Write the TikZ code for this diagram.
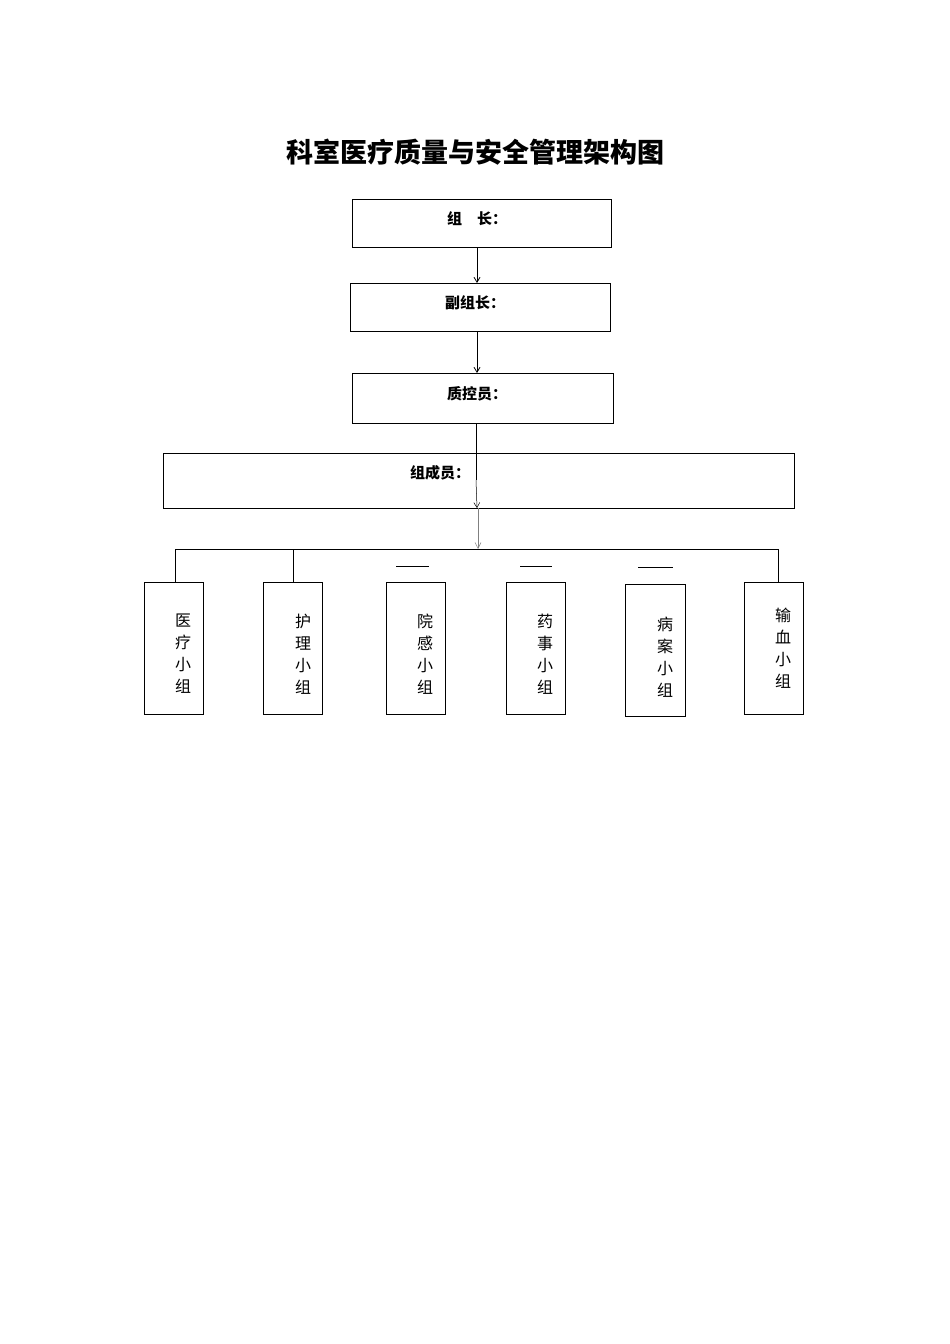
\documentclass[tikz,border=0pt]{standalone}
\usepackage{fontspec}
\newfontfamily\cjk{Noto Sans CJK SC}
\usetikzlibrary{arrows.meta}
\begin{document}
\begin{tikzpicture}[x=1pt,y=-1pt,
  box/.style={draw,line width=1pt},
  lbl/.style={font=\cjk\fontsize{15}{18}\selectfont\bfseries},
  vt/.style={font=\cjk\fontsize{16}{22}\selectfont,align=center,inner sep=0pt},
  arr/.style={-{Straight Barb[length=5pt,width=6pt]},line width=0.8pt}]
\useasboundingbox (0,0) rectangle (950,1344);
\node[font=\cjk\fontsize{27}{32}\selectfont\bfseries] (title) at (475,152) {科室医疗质量与安全管理架构图};
\draw[box] (352,199) rectangle (611,247);
\node[lbl] (zz) at (477,219) {组\quad 长：};
\coordinate (zzb) at (477,247);
\draw[box] (350,283) rectangle (610,331);
\node[lbl] (fz) at (475,303) {副组长：};
\coordinate (fzt) at (477,283); \coordinate (fzb) at (477,331);
\draw[box] (352,373) rectangle (613,423);
\node[lbl] (zk) at (477,394) {质控员：};
\coordinate (zkt) at (477,373); \coordinate (zkb) at (476,423);
\draw[box] (163,453) rectangle (794,508);
\node[lbl] (cy) at (440,473) {组成员：};
\coordinate (cyl) at (476,480); \coordinate (cya) at (477,508);
\draw[arr] (zzb) -- (fzt);
\draw[arr] (fzb) -- (zkt);
\draw[line width=0.8pt] (zkb) -- (cyl);
\draw[-{Straight Barb[length=5pt,width=6pt]},line width=0.5pt] (cyl) -- (cya);
\coordinate (hb) at (478,549);
\draw[-{Straight Barb[length=6pt,width=6pt]},line width=0.5pt,gray] (478,508) -- (hb);
\draw[line width=0.6pt] (175,549) -- (778,549);
\foreach \x in {175,293,778} \draw[line width=0.6pt] (\x,549) -- (\x,582);
\draw[line width=0.8pt] (396,566) -- (429,566);
\draw[line width=0.8pt] (520,566) -- (552,566);
\draw[line width=0.8pt] (638,567) -- (673,567);
\foreach \a/\b/\c/\d/\tx/\ty/\t in {
144/582/203/714/183/654/{医\\疗\\小\\组},
263/582/322/714/303/654/{护\\理\\小\\组},
386/582/445/714/425/654/{院\\感\\小\\组},
506/582/565/714/545/654/{药\\事\\小\\组},
625/584/685/716/665/657/{病\\案\\小\\组},
744/582/803/714/783/648/{输\\血\\小\\组}}{
  \draw[box] (\a,\b) rectangle (\c,\d);
  \node[vt] at (\tx,\ty) {\t};
}
\end{tikzpicture}
\end{document}
